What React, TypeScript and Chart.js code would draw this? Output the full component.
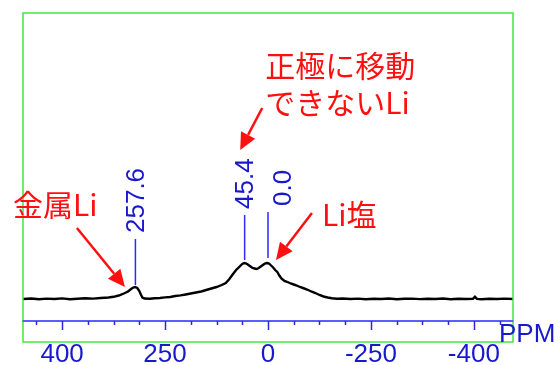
import { useEffect, useRef } from "react";
import { Chart, registerables } from "chart.js";

Chart.register(...registerables);

// Spectrum (chemical shift in ppm, relative intensity)
const ppm = [
  476, 460, 445, 430, 415, 400, 385, 370, 355, 340, 325, 310, 300, 290, 280, 272, 266, 262, 258, 254,
  250, 247, 244, 240, 230, 220, 210, 200, 190, 180, 170, 160, 150, 140, 130, 120, 110, 100, 90, 82,
  75, 68, 62, 56, 50, 46, 42, 38, 34, 30, 26, 22, 18, 14, 10, 6, 2, -2, -6, -10,
  -14, -18, -22, -26, -32, -38, -44, -50, -56, -62, -68, -76, -84, -92, -100, -108, -116, -124, -134, -145,
  -160, -175, -190, -205, -220, -235, -250, -265, -280, -295, -310, -325, -340, -355, -370, -385, -398, -402, -406, -415,
  -430, -445, -460, -476,
];
const intensity = [
  0, 0.5, -0.3, 0.4, 0, 0.6, -0.2, 0.3, 0.8, 0.4, 1, 1.5, 2.2, 3.5, 5.5, 7.5, 10, 11.5, 12, 11,
  8, 4.5, 1.5, 0.5, 0.3, 0.8, 1, 1.6, 2, 3, 3.6, 4.5, 5.5, 6.5, 7.5, 9, 10.5, 12, 14, 16,
  20, 25, 29, 32, 35, 36, 35.5, 34, 32.5, 31, 30.5, 30, 31, 32.5, 34, 35.5, 36, 35.5, 33.5, 31.5,
  29, 27, 23.5, 20.5, 18, 17, 15.5, 14.5, 13.5, 12, 11, 9.5, 7.5, 6, 4, 2.5, 1.5, 0.8, 0.2, 0.5,
  0, 0.4, -0.2, 0.3, 0, 0.5, -0.3, 0.2, 0.4, -0.1, 0.3, 0, 0.5, -0.2, 0.3, 0, 0.2, 2.2, 0.1, -0.2,
  0.3, 0, 0.4, 0,
];

// Axis ticks (labels as printed on the original)
const majorTicks = [400, 200, 0, -200, -400];
const tickLabels = ["400", "250", "0", "-250", "-400"];
const minorTicks = [450, 350, 300, 250, 150, 100, 50, -50, -100, -150, -250, -300, -350, -450];
const axisTitle = "PPM";

// Peak markers
const peakPositions = [257.6, 45.4, 0.0];
const peakLabels = ["257.6", "45.4", "0.0"];

// Callout texts
const calloutTexts = [["金属Li"], ["正極に移動", "できないLi"], ["Li塩"]];
const calloutTipPpm = [278, 54, -15.5];
const calloutTipIntensity = [12, 149, 39];

const LATIN = "'Liberation Sans', Arial, sans-serif";
const BLUE_TEXT = "#1818cc";

function drawArrow(ctx: CanvasRenderingContext2D, x1: number, y1: number, x2: number, y2: number) {
  const ang = Math.atan2(y2 - y1, x2 - x1);
  const L = 17;
  const W = 8;
  const bx = x2 - Math.cos(ang) * L;
  const by = y2 - Math.sin(ang) * L;
  ctx.beginPath();
  ctx.moveTo(x1, y1);
  ctx.lineTo(bx, by);
  ctx.stroke();
  ctx.beginPath();
  ctx.moveTo(x2, y2);
  ctx.lineTo(bx - Math.sin(ang) * W, by + Math.cos(ang) * W);
  ctx.lineTo(bx + Math.sin(ang) * W, by - Math.cos(ang) * W);
  ctx.closePath();
  ctx.fill();
}

const overlay = {
  id: "overlay",
  afterDraw(chart: any) {
    const { ctx, chartArea: a, scales } = chart;
    const x = scales.x;
    const y = scales.y;
    ctx.save();

    // frame
    ctx.strokeStyle = "#40e840";
    ctx.lineWidth = 1.5;
    ctx.strokeRect(a.left, a.top, a.right - a.left, a.bottom + 21 - a.top);

    // axis line redraw & ticks
    ctx.strokeStyle = "#5c5cff";
    ctx.lineWidth = 2;
    ctx.beginPath();
    ctx.moveTo(a.left, a.bottom);
    ctx.lineTo(a.right, a.bottom);
    ctx.stroke();
    ctx.strokeStyle = "#2a2ad8";
    ctx.lineWidth = 1.5;
    minorTicks.forEach((v) => {
      const px = Math.round(x.getPixelForValue(v)) + 0.5;
      ctx.beginPath();
      ctx.moveTo(px, a.bottom);
      ctx.lineTo(px, a.bottom + 4);
      ctx.stroke();
    });
    majorTicks.forEach((v) => {
      const px = Math.round(x.getPixelForValue(v)) + 0.5;
      ctx.beginPath();
      ctx.moveTo(px, a.bottom);
      ctx.lineTo(px, a.bottom + 9);
      ctx.stroke();
    });

    // axis title
    ctx.fillStyle = BLUE_TEXT;
    ctx.font = `26px ${LATIN}`;
    ctx.textAlign = "left";
    ctx.textBaseline = "alphabetic";
    ctx.fillText(axisTitle, a.right - 14, a.bottom + 21);

    // peak markers
    const peakLayout = [
      { from: 14, to: 60, dx: 0 },
      { from: 39, to: 84, dx: 0 },
      { from: 41, to: 87, dx: 15 },
    ];
    peakPositions.forEach((p, i) => {
      const px = x.getPixelForValue(p);
      const l = peakLayout[i];
      const yb = y.getPixelForValue(l.from);
      const yt = y.getPixelForValue(l.to);
      ctx.strokeStyle = "#2a2aff";
      ctx.lineWidth = 1.5;
      ctx.beginPath();
      ctx.moveTo(px, yb);
      ctx.lineTo(px, yt);
      ctx.stroke();
      ctx.save();
      ctx.translate(px + l.dx, yt - 6);
      ctx.rotate(-Math.PI / 2);
      ctx.fillStyle = BLUE_TEXT;
      ctx.font = `26px ${LATIN}`;
      ctx.textAlign = "left";
      ctx.textBaseline = "middle";
      ctx.fillText(peakLabels[i], 0, 1);
      ctx.restore();
    });

    // callouts
    const calloutLayout = [
      { tail: [-48, -59], text: [-112, -82] },
      { tail: [22, -42], text: [25, -84] },
      { tail: [36, -47], text: [46, -45] },
    ];
    ctx.strokeStyle = "#ff1010";
    ctx.fillStyle = "#ff1010";
    ctx.lineWidth = 2.5;
    calloutTexts.forEach((lines, i) => {
      const tx = x.getPixelForValue(calloutTipPpm[i]);
      const ty = y.getPixelForValue(calloutTipIntensity[i]);
      const l = calloutLayout[i];
      drawArrow(ctx, tx + l.tail[0], ty + l.tail[1], tx, ty);
      ctx.font = `30px "Noto Sans CJK JP", sans-serif`;
      ctx.textAlign = "left";
      ctx.textBaseline = "middle";
      lines.forEach((t, k) => {
        ctx.fillText(t, tx + l.text[0], ty + l.text[1] + k * 37);
      });
    });

    ctx.restore();
  },
};

export default function App() {
  const ref = useRef<HTMLCanvasElement>(null);
  useEffect(() => {
    if (!ref.current) return;
    const chart = new Chart(ref.current, {
      type: "line",
      data: {
        datasets: [
          {
            data: ppm.map((p, i) => ({ x: p, y: intensity[i] })),
            borderColor: "#000000",
            borderWidth: 2.4,
            pointRadius: 0,
            tension: 0,
            fill: false,
          },
        ],
      },
      options: {
        animation: false,
        responsive: false,
        devicePixelRatio: 1,
        layout: { padding: { left: 23, right: 47, top: 13, bottom: 0 } },
        plugins: { legend: { display: false }, tooltip: { enabled: false } },
        scales: {
          x: {
            type: "linear",
            reverse: true,
            min: -476,
            max: 476,
            afterBuildTicks: (scale: any) => {
              scale.ticks = majorTicks.map((v) => ({ value: v }));
            },
            afterFit: (scale: any) => {
              scale.height = 44;
            },
            grid: { display: false, drawOnChartArea: false, drawTicks: false },
            border: { display: true, color: "#5c5cff", width: 2 },
            ticks: {
              autoSkip: false,
              maxRotation: 0,
              padding: 18,
              color: BLUE_TEXT,
              font: { family: LATIN, size: 26 },
              callback: (_v: any, i: number) => tickLabels[i],
            },
          },
          y: { display: false, min: -22, max: 286 },
        },
      },
      plugins: [overlay],
    } as any);
    return () => chart.destroy();
  }, []);
  return (
    <canvas
      ref={ref}
      width={560}
      height={365}
      style={{ position: "absolute", left: 0, top: 0, width: 560, height: 365, display: "block" }}
    />
  );
}
